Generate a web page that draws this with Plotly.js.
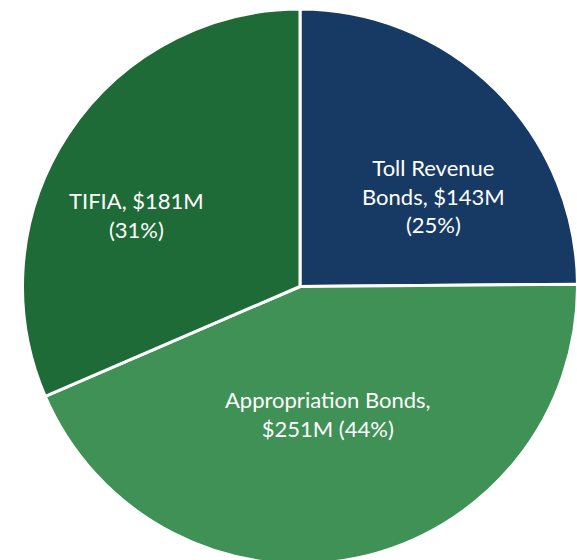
<!DOCTYPE html>
<html>
<head>
<meta charset="utf-8">
<script src="https://cdn.plot.ly/plotly-3.0.1.min.js"></script>
<style>
  html, body { margin: 0; padding: 0; overflow: hidden; background: #ffffff; width: 577px; height: 560px; }
  #chart { position: absolute; left: 0; top: 0; width: 600px; height: 572px; }
</style>
</head>
<body>
<div id="chart"></div>
<script>
const labels = ["Toll Revenue Bonds", "Appropriation Bonds", "TIFIA"];
const values = [143, 251, 181];
const colors = ["#173a64", "#3f9156", "#1f6b37"];

const W = 600, H = 572;
const cx = 300, cy = 286.5, r = 277.5;

const total = values.reduce((a, b) => a + b, 0);
const pct = values.map(v => Math.round(v / total * 100) + "%");
const labelTexts = [
  "Toll Revenue<br>Bonds, $" + values[0] + "M<br>(" + pct[0] + ")",
  labels[1] + ",<br>$" + values[1] + "M (" + pct[1] + ")",
  labels[2] + ", $" + values[2] + "M<br>(" + pct[2] + ")"
];
// label block centres in pixels (layout only)
const labelPos = [[433, 196], [328, 414], [136, 215]];

const annotations = labelTexts.map((t, i) => ({
  x: labelPos[i][0] / W, y: 1 - labelPos[i][1] / H,
  xref: "paper", yref: "paper",
  xanchor: "center", yanchor: "middle",
  text: t, showarrow: false, align: "center",
  font: { family: "Lato, sans-serif", size: 22, color: "#ffffff" }
}));

Plotly.newPlot("chart", [{
  type: "pie",
  labels: labels,
  values: values,
  sort: false,
  direction: "clockwise",
  rotation: 0,
  marker: { colors: colors, line: { color: "#ffffff", width: 3 } },
  textinfo: "none",
  hoverinfo: "none",
  domain: { x: [(cx - r) / W, (cx + r) / W], y: [(H - cy - r) / H, (H - cy + r) / H] }
}], {
  width: W, height: H,
  margin: { l: 0, r: 0, t: 0, b: 0, pad: 0 },
  showlegend: false,
  paper_bgcolor: "#ffffff",
  annotations: annotations,
  font: { family: "Lato, sans-serif" }
}, { displayModeBar: false, staticPlot: true });
</script>
</body>
</html>
